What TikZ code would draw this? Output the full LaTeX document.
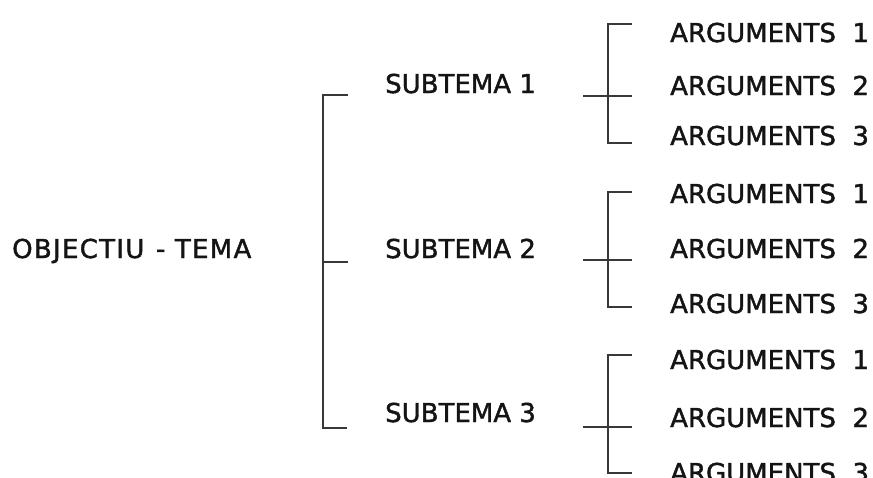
\documentclass[tikz,border=0pt]{standalone}
\usepackage{fontspec}
\setmainfont{DejaVu Sans}[FakeBold=1.6]
\begin{document}
\begin{tikzpicture}[x=1pt,y=-1pt,
  lbl/.style={anchor=base west,inner sep=0pt,font=\fontsize{26}{30}\selectfont,text=black!92},
  brk/.style={draw=black!78,line width=2.6pt,line cap=butt}]
\useasboundingbox (0,0) rectangle (873,477);
% texts
\node[lbl] (obj) at (12,258) {\addfontfeature{LetterSpace=5}OBJECTIU\hspace{2pt} - TEMA};
\node[lbl] (s1) at (385,93) {SUBTEMA 1};
\node[lbl] (s2) at (385,258) {SUBTEMA 2};
\node[lbl] (s3) at (385,422) {SUBTEMA 3};
\foreach \g/\ya/\yb/\yc in {1/42/95/145, 2/203/258/313, 3/369/427/482}{
  \node[lbl] (a\g1) at (670,\ya) {ARGUMENTS\ \ 1};
  \node[lbl] (a\g2) at (670,\yb) {ARGUMENTS\ \ 2};
  \node[lbl] (a\g3) at (670,\yc) {ARGUMENTS\ \ 3};
}
% main bracket
\coordinate (mt) at (323,95);
\coordinate (mm) at (323,262);
\coordinate (mb) at (323,428);
\draw[brk] (348,95) -- (mt) -- (mb) -- (347,428);
\draw[brk] (mm) -- (348,262);
% sub brackets
\foreach \g/\t/\c/\b in {1/24/96/143, 2/192/260/307, 3/355/427/473}{
  \coordinate (t\g) at (608,\t);
  \coordinate (b\g) at (608,\b);
  \draw[brk] (632,\t) -- (t\g) -- (b\g) -- (632,\b);
  \draw[brk] (583,\c) -- (632,\c);
}
\end{tikzpicture}
\end{document}
